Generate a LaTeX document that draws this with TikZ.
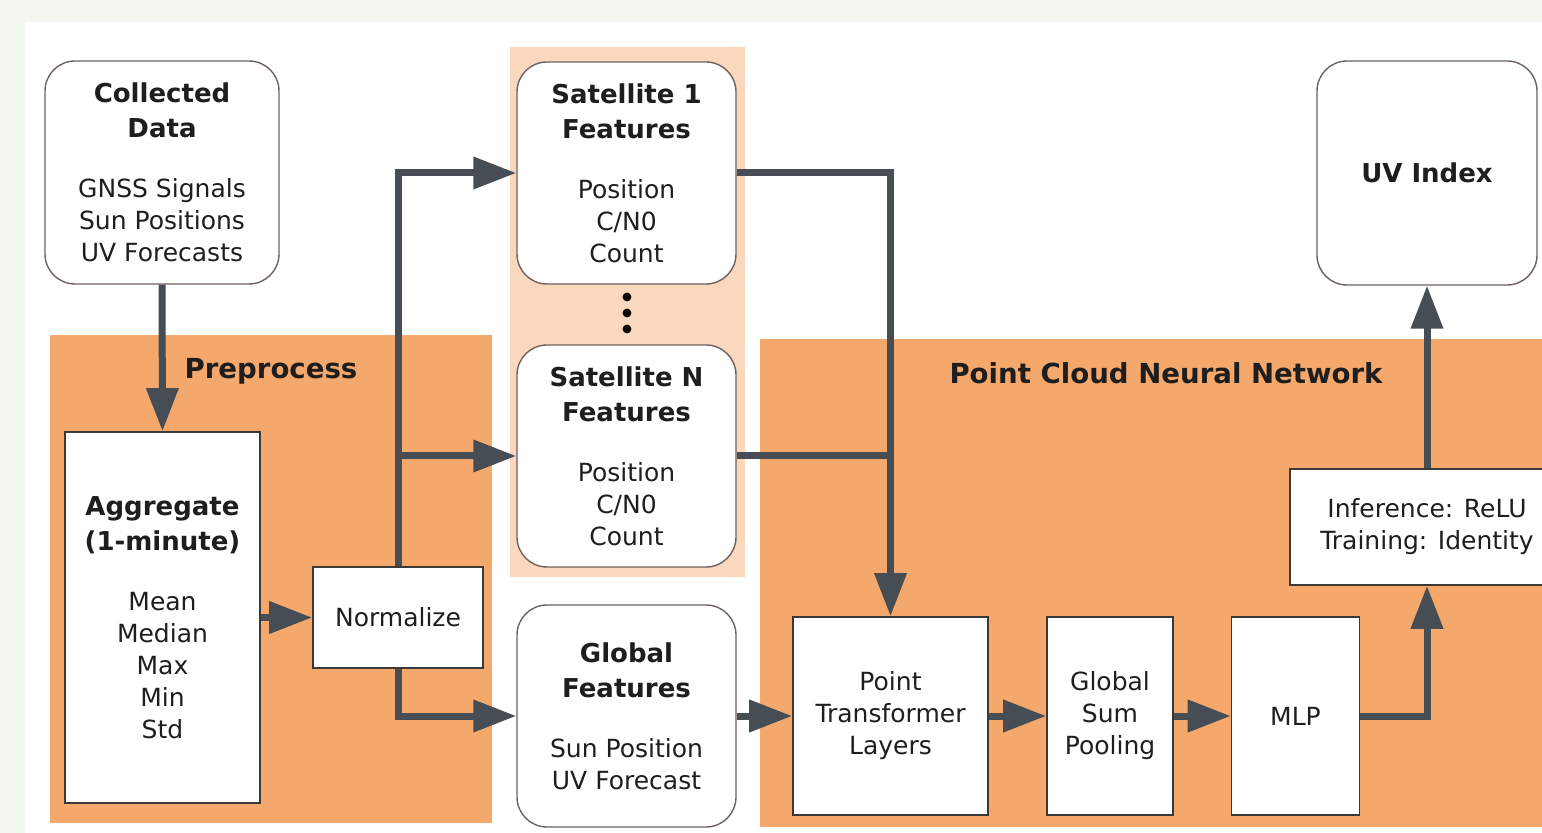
\documentclass[tikz,border=0pt]{standalone}
\usepackage{fontspec}
\setmainfont{DejaVu Sans}
\usetikzlibrary{arrows.meta}
\definecolor{bgmint}{HTML}{F1F7EF}
\definecolor{orangeR}{HTML}{F5A86C}
\definecolor{peach}{HTML}{FAD8BE}
\definecolor{arrowc}{HTML}{474D55}
\definecolor{rline}{HTML}{6E6260}
\definecolor{sline}{HTML}{3C3838}
\definecolor{txt}{HTML}{1E1E1E}
\newcommand{\ttl}[1]{{\fontsize{13}{16}\selectfont\bfseries #1}}
\tikzset{
  basefont/.style={font=\fontsize{12.5}{16}\selectfont, text=txt, align=center},
  rbox/.style={basefont, draw=rline, line width=0.7pt, fill=white, rounded corners=15pt, inner sep=0pt},
  sbox/.style={basefont, draw=sline, line width=0.8pt, fill=white, inner sep=0pt},
  lab/.style={font=\fontsize{13.8}{16}\selectfont\bfseries, text=txt},
  arr/.style={draw=arrowc, line width=3.5pt, -{Triangle[length=21.5pt,width=15.5pt]}},
  plainline/.style={draw=arrowc, line width=3.5pt},
}
\begin{document}
\begin{tikzpicture}[x=0.5pt,y=-0.5pt]
\clip (0,0) rectangle (1542,833);
\fill[bgmint] (0,0) rectangle (1542,833);
\fill[white] (25,22) rectangle (1542,833);
% regions
\fill[orangeR] (50,335) rectangle (492,823);
\fill[peach] (510,47) rectangle (745,577);
\fill[orangeR] (760,339) rectangle (1600,827);
\node[lab] (pplab) at (271,371) {Preprocess};
\node[lab] (pcnnlab) at (1166,373) {Point Cloud Neural Network};

% nodes
\node[rbox, minimum width=117pt, minimum height=111.5pt] (cd) at (162,172.5)
  {\ttl{Collected}\\[1.5pt]\ttl{Data}\\[14pt]GNSS Signals\\Sun Positions\\UV Forecasts};
\node[sbox, minimum width=97.5pt, minimum height=185.5pt] (agg) at (162.5,617.5)
  {\ttl{Aggregate}\\[1.5pt]\ttl{(1-minute)}\\[14pt]Mean\\Median\\Max\\Min\\Std};
\node[sbox, minimum width=85pt, minimum height=50.5pt] (norm) at (398,617.5) {Normalize};
\node[rbox, minimum width=109.5pt, minimum height=111pt] (s1) at (626.5,173)
  {\ttl{Satellite 1}\\[1.5pt]\ttl{Features}\\[14pt]Position\\C/N0\\Count};
\node[rbox, minimum width=109.5pt, minimum height=111pt] (sn) at (626.5,456)
  {\ttl{Satellite N}\\[1.5pt]\ttl{Features}\\[14pt]Position\\C/N0\\Count};
\node[rbox, minimum width=109.5pt, minimum height=111pt] (gf) at (626.5,716)
  {\ttl{Global}\\[1.5pt]\ttl{Features}\\[14pt]Sun Position\\UV Forecast};
\node[sbox, minimum width=97.5pt, minimum height=99pt] (pt) at (890.5,716)
  {Point\\Transformer\\Layers};
\node[sbox, minimum width=63pt, minimum height=99pt] (gsp) at (1110,716)
  {Global\\Sum\\Pooling};
\node[sbox, minimum width=64pt, minimum height=99pt] (mlp) at (1295.5,716) {MLP};
\node[sbox, minimum width=137pt, minimum height=58pt] (inf) at (1427,527)
  {Inference: ReLU\\Training: Identity};
\node[rbox, minimum width=110pt, minimum height=112pt] (uv) at (1427,173)
  {\ttl{UV Index}};

% vertical dots
\fill[black] (627,297) circle (2.2pt) (627,313) circle (2.2pt) (627,329) circle (2.2pt);

% connectors
\draw[arr] (cd.south) -- (agg.north);
\draw[arr] (agg.east |- norm.west) -- (norm.west);
\draw[arr] (norm.north) |- (s1.west);
\draw[arr] (norm.north) |- (sn.west);
\draw[arr] (norm.south) |- (gf.west);
\draw[arr] (s1.east) -| (pt.north);
\draw[plainline] (sn.east) -- (sn.east -| pt.north);
\draw[arr] (gf.east) -- (pt.west);
\draw[arr] (pt.east) -- (gsp.west);
\draw[arr] (gsp.east) -- (mlp.west);
\draw[arr] (mlp.east) -| (inf.south);
\draw[arr] (inf.north) -- (uv.south);
\end{tikzpicture}
\end{document}
